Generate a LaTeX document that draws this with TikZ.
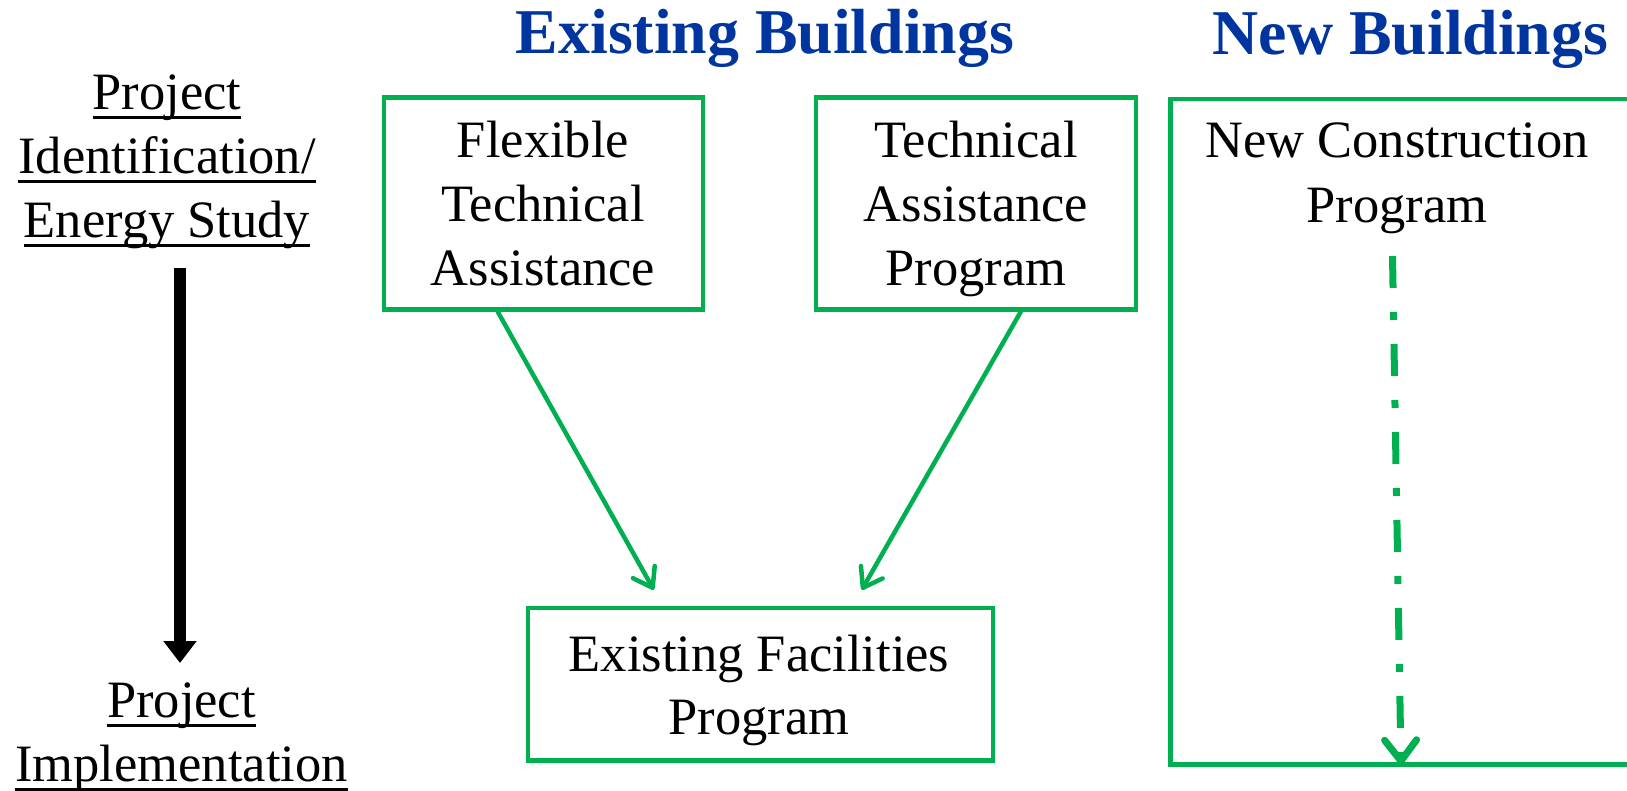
\documentclass[tikz,border=0pt]{standalone}
\usepackage{fontspec}
\setmainfont{Liberation Serif}
\usetikzlibrary{arrows.meta,calc}
\definecolor{pgreen}{HTML}{00B050}
\definecolor{pblue}{HTML}{0035A0}
\newcommand\fh{\rule{0pt}{40pt}}
\newcommand\myul[1]{\setbox0=\hbox{#1}\rlap{\rule[-9.5pt]{\wd0}{3pt}}\box0}
\tikzset{
  gbox/.style={draw=pgreen, line width=4.5pt, inner sep=0pt, rectangle},
  body/.style={font=\fontsize{52.5pt}{64pt}\selectfont, align=center, inner sep=0pt, anchor=north},
  title/.style={font=\fontsize{63.8pt}{70pt}\selectfont\bfseries, text=pblue, inner sep=0pt, anchor=north},
  garrow/.style={draw=pgreen, line width=4.5pt, line cap=round, -{Straight Barb[length=18pt,width=25pt,line cap=round,line join=round]}},
  darrow/.style={draw=pgreen, line width=7pt, dash pattern=on 32pt off 24pt on 8pt off 24pt, -{Straight Barb[length=21pt,width=32pt,line cap=round,line join=round]}},
  karrow/.style={draw=black, line width=12.5pt, -{Triangle[length=22pt,width=32pt]}}
}
\begin{document}
\begin{tikzpicture}[x=1pt,y=-1pt]
\useasboundingbox (0,0) rectangle (1627,791);
\fill[white] (0,0) rectangle (1627,791);

% titles
\node[title] (h1) at (765,9) {\fh Existing Buildings};
\node[title] (h2) at (1410.5,10) {\fh New Buildings};

% left column
\node[body] (l1) at (167,69) {\fh\myul{Project}\\\myul{Identification/}\\\myul{Energy Study}};
\node[body] (l2) at (181.5,677) {\fh\myul{Project}\\\myul{Implementation}};
\coordinate (ks) at (180,268);
\coordinate (ke) at (180,663);
\draw[karrow] (ks) -- (ke);

% boxes
\node[gbox, minimum width=319pt, minimum height=212pt] (b1) at (543.5,203.5) {};
\node[gbox, minimum width=320pt, minimum height=212pt] (b2) at (976,203.5) {};
\node[gbox, minimum width=465pt, minimum height=152.5pt] (b3) at (760.5,684.25) {};
\node[gbox, minimum width=480pt, minimum height=665pt, anchor=north west] (b4) at (1168,97) {};

% box texts
\node[body] (t1) at (543,117) {\fh Flexible\\Technical\\Assistance};
\node[body] (t2) at (976,117) {\fh Technical\\Assistance\\Program};
\node[body, font=\fontsize{52.5pt}{63pt}\selectfont] (t3) at (759,631) {\fh Existing Facilities\\Program};
\node[body, font=\fontsize{52.5pt}{65pt}\selectfont] (t4) at (1397,117) {\fh New Construction\\Program};

% connectors
\coordinate (a1s) at ($(b1.south west)+(116,0)$);
\coordinate (a1e) at ($(b3.north west)+(128,-16)$);
\coordinate (a2s) at ($(b2.south west)+(207,0)$);
\coordinate (a2e) at ($(b3.north west)+(336,-16)$);
\draw[garrow] (a1s) -- (a1e);
\draw[garrow] (a2s) -- (a2e);

\coordinate (ds) at (1392.5,256);
\coordinate (de) at ($(b4.south west)+(233,-2)$);
\draw[darrow] (ds) -- (de);
\end{tikzpicture}
\end{document}
